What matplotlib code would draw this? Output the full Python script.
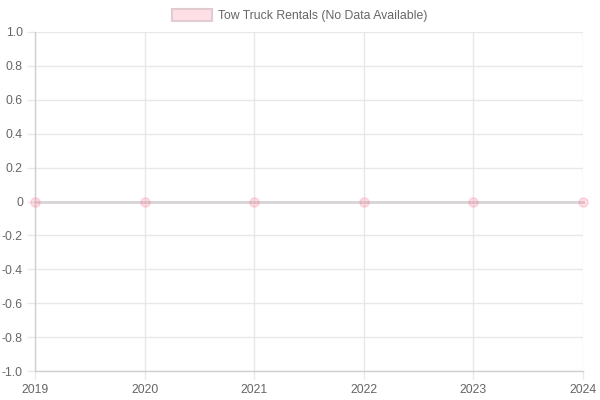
import matplotlib
matplotlib.use("Agg")
import matplotlib.pyplot as plt
from matplotlib.patches import Rectangle

years = ["2019", "2020", "2021", "2022", "2023", "2024"]
values = [0, 0, 0, 0, 0, 0]
series_label = "Tow Truck Rentals (No Data Available)"
y_ticks = [1.0, 0.8, 0.6, 0.4, 0.2, 0, -0.2, -0.4, -0.6, -0.8, -1.0]

plt.rcParams['font.family'] = ['Liberation Sans', 'DejaVu Sans']

W, H = 600, 400
PT = 72 / 100  # points per pixel
fig = plt.figure(figsize=(6, 4), dpi=100)
L, R, T, B = 35, 583, 32, 371
ax = fig.add_axes([L / W, 1 - B / H, (R - L) / W, (B - T) / H])

xs = list(range(len(years)))
ax.set_xlim(0, len(years) - 1)
ax.set_ylim(-1, 1)
ax.set_xticks(xs)
ax.set_xticklabels(years)
ax.set_yticks(y_ticks)
ax.set_yticklabels([("%g" % v) if v == 0 else ("%.1f" % v) for v in y_ticks])

grid_c = '#e8e8e8'
ax.grid(True, color=grid_c, linewidth=1, alpha=1)
ax.set_axisbelow(True)
for s in ax.spines.values():
    s.set_visible(False)
for side in ('left', 'bottom'):
    ax.spines[side].set_visible(True)
    ax.spines[side].set_color('#d0d0d0')
    ax.spines[side].set_linewidth(1)
ax.tick_params(axis='both', color=grid_c, length=8 * PT, width=1,
               labelcolor='#666666', labelsize=8.85)
ax.tick_params(axis='y', pad=4 * PT)
ax.tick_params(axis='x', pad=5 * PT)

ax.plot(xs, values, color='#d8d4d5', linewidth=2.0,
        marker='o', markersize=6.5, markerfacecolor=(1, 0.39, 0.52, 0.2),
        markeredgecolor=(1, 0.39, 0.52, 0.25), markeredgewidth=1, clip_on=False,
        zorder=3)

# legend
fig.patches.append(Rectangle((172 / W, 1 - 21 / H), 40 / W, 12 / H,
                             transform=fig.transFigure,
                             facecolor=(1, 0.39, 0.52, 0.2),
                             edgecolor=(0.88, 0.8, 0.82, 1), linewidth=1.5))
fig.text(218 / W, 1 - 15.5 / H, series_label, color='#666666', fontsize=8.85,
         va='center', ha='left')

fig.savefig("out.png", dpi=100)
